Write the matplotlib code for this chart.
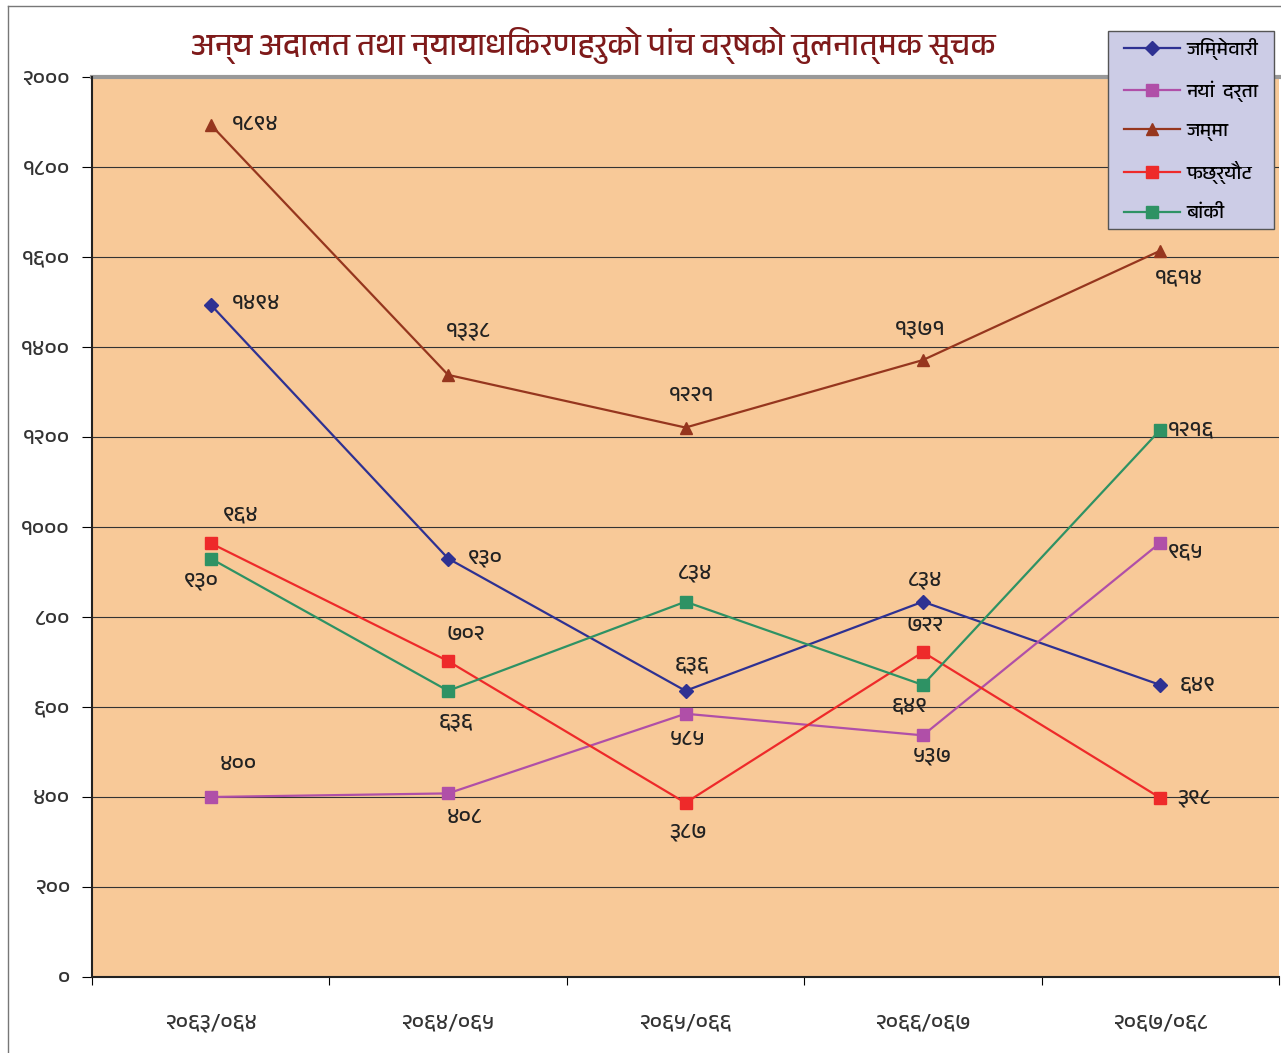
import matplotlib
matplotlib.use("Agg")
import matplotlib.pyplot as plt
from matplotlib import font_manager as fm
from matplotlib.patches import Rectangle

# ---- data ----
categories = ["२०६३/०६४", "२०६४/०६५", "२०६५/०६६", "२०६६/०६७", "२०६७/०६८"]
series_names = ["जिम्मेवारी", "नयां  दर्ता", "जम्मा", "फछ्र्यौट", "बांकी"]
jimmewari = [1494, 930, 636, 834, 649]
naya_darta = [400, 408, 585, 537, 965]
jamma = [1894, 1338, 1221, 1371, 1614]
fachhyaut = [964, 702, 387, 722, 398]
baki = [930, 636, 834, 649, 1216]
yticks = [0, 200, 400, 600, 800, 1000, 1200, 1400, 1600, 1800, 2000]
title = "अन्य अदालत तथा न्यायाधिकरणहरुको पांच वर्षको तुलनात्मक सूचक"

DEV = str.maketrans("0123456789", "०१२३४५६७८९")
def dev(n):
    return str(n).translate(DEV)

# pick a font with Devanagari if present
names = sorted({f.name for f in fm.fontManager.ttflist})
dev_fonts = [n for n in names if "Devanagari" in n or "Lohit" in n or "Mukta" in n or "Mangal" in n]
families = dev_fonts + ["DejaVu Sans"]
plt.rcParams["font.family"] = families

W, H = 1281, 1053
fig = plt.figure(figsize=(W/100, H/100), dpi=100)
ax = fig.add_axes([92/W, 1-977/H, (1279-92)/W, 900/H])
ax.set_facecolor("#F8C998")
ax.set_xlim(0, 5)
ax.set_ylim(0, 2000)
xs = [i + 0.5 for i in range(5)]

styles = [
    (jimmewari, "#2E3192", "D", 7),
    (naya_darta, "#B04FA8", "s", 8),
    (jamma, "#96361E", "^", 9),
    (fachhyaut, "#EE2A2A", "s", 8),
    (baki, "#2E9264", "s", 8),
]
for (vals, c, m, ms), name in zip(styles, series_names):
    ax.plot(xs, vals, color=c, marker=m, markersize=ms, lw=1.6, label=name)

# label offsets in pixels (dx, dy)
offsets = [
    [(45, 1), (37, 1), (7, 26), (2, 22), (37, 0)],
    [(28, 33), (17, -24), (2, -26), (9, -21), (25, -9)],
    [(45, 0), (20, 44), (6, 32), (-3, 31), (19, -27)],
    [(30, 28), (18, 27), (2, -29), (2, 27), (34, 0)],
    [(-9, -22), (8, -31), (10, 29), (-13, -21), (31, 0)],
]
for (vals, c, m, ms), offs in zip(styles, offsets):
    for x, v, (dx, dy) in zip(xs, vals, offs):
        ax.annotate(dev(v), (x, v), xytext=(dx, dy), textcoords="offset pixels",
                    ha="center", va="center", fontsize=16, color="#222222")

ax.set_yticks(yticks)
ax.set_yticklabels([dev(t) for t in yticks], fontsize=16, color="#333333")
ax.set_xticks(range(6))
ax.set_xticklabels([])
ax.set_xticks(xs, minor=True)
ax.set_xticklabels(categories, minor=True, fontsize=16, color="#333333")
ax.tick_params(axis="x", which="minor", length=0, pad=26)
ax.tick_params(axis="x", which="major", length=6, direction="out")
ax.tick_params(axis="y", length=7, direction="out", pad=9)
ax.grid(axis="y", color="#333333", lw=0.8)
ax.set_axisbelow(True)
for s in ["right", "top"]:
    ax.spines[s].set_visible(False)
ax.spines["left"].set_color("#222222")
ax.spines["bottom"].set_color("#222222")
ax.spines["left"].set_linewidth(1.5)
ax.spines["bottom"].set_linewidth(1.5)
ax.axhline(2000, color="#999999", lw=3, clip_on=False)

fig.text(593/W, 1-45/H, title, ha="center", va="center", fontsize=22.5,
         color="#7E1A1A", fontweight="bold")

# legend box
fig.add_artist(Rectangle((1108/W, 1-229/H), 166/W, 198/H, transform=fig.transFigure,
                         facecolor="#CCCCE6", edgecolor="#555555", lw=1, zorder=5))
leg = fig.legend(loc="upper left", bbox_to_anchor=(1116/W, 1-30/H),
                 frameon=False, fontsize=14, labelspacing=1.05, handlelength=2.9,
                 handletextpad=0.3, borderpad=0.4, borderaxespad=0)
leg.set_zorder(6)

# figure border
fig.add_artist(plt.Line2D([8/W, 8/W], [0, 1-6/H], color="#777777", lw=1))
fig.add_artist(plt.Line2D([8/W, 1], [1-6/H, 1-6/H], color="#777777", lw=1))

fig.savefig("out.png", dpi=100)
